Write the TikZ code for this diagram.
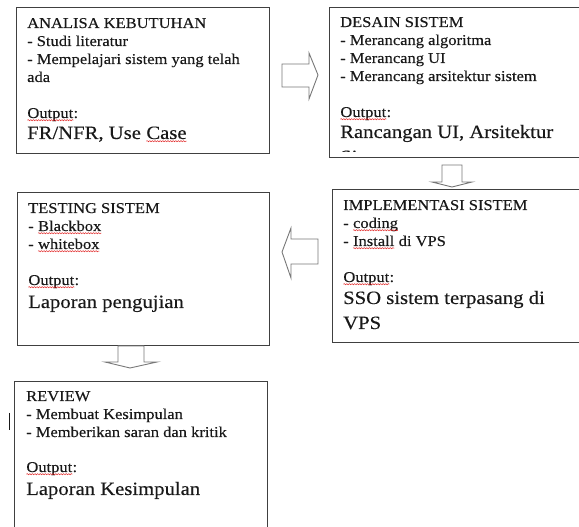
\documentclass[tikz,border=0pt]{standalone}
\usepackage{fontspec}
\setmainfont{Liberation Serif}[FakeStretch=1.1,FakeBold=0.3]
\usetikzlibrary{decorations.pathmorphing}
\definecolor{figline}{RGB}{64,64,64}
\definecolor{figarrow}{RGB}{120,120,120}
\definecolor{figtext}{RGB}{25,25,25}
\definecolor{figwave}{RGB}{225,40,40}
\tikzset{
  box/.style   ={draw=figline, line width=1pt, anchor=north west, inner sep=0pt},
  barrow/.style={draw=figarrow, fill=white, line width=0.9pt, line join=miter},
  txt/.style   ={font=\fontsize{15}{18}\selectfont, text=figtext, anchor=base west, inner sep=0pt},
  big/.style   ={font=\fontsize{18.8}{25}\selectfont, text=figtext, anchor=base west, inner sep=0pt},
  sqline/.style={draw=figwave, line width=0.5pt, decorate, decoration={snake, amplitude=0.6pt, segment length=2.6pt}},
}
\newcommand{\sq}[1]{\tikz[baseline=(sqw.base)]{\node[inner sep=0pt,outer sep=0pt] (sqw) {#1};
  \draw[sqline] ([yshift=-2.2pt]sqw.base west) -- ([yshift=-2.2pt]sqw.base east);}}

\begin{document}
\begin{tikzpicture}[x=1pt,y=1pt]
  \useasboundingbox (0,0) rectangle (579,527);
  \clip (0,0) rectangle (579,527);
  % boxes
  \node[box, minimum width=253pt, minimum height=146pt] (analisa) at (16,520) {};
  \node[box, minimum width=260pt, minimum height=150pt] (desain) at (329,520) {};
  \node[box, minimum width=260pt, minimum height=153pt] (implementasi) at (332,338) {};
  \node[box, minimum width=252pt, minimum height=153pt] (testing) at (17,335) {};
  \node[box, minimum width=253pt, minimum height=160pt] (review) at (14,146) {};
  % block arrows
  \draw[barrow] (282,463) -- (309,463) -- (309,474) -- (318,452) -- (309,428) -- (309,440) -- (282,440) -- cycle;
  \draw[barrow] (442,362) -- (462,362) -- (462,345) -- (472,345) -- (452,340) -- (432,345) -- (442,345) -- cycle;
  \draw[barrow] (318,288) -- (291,288) -- (291,299) -- (282,275) -- (291,249) -- (291,263) -- (318,263) -- cycle;
  \draw[barrow] (118,181) -- (144,181) -- (144,165) -- (157,165) -- (130,159) -- (105,165) -- (118,165) -- cycle;
  % analisa kebutuhan
  \node[txt] (an1) at (27,499) {ANALISA KEBUTUHAN};
  \node[txt] (an2) at (27,481) {- Studi literatur};
  \node[txt] (an3) at (27,463) {- Mempelajari sistem yang telah};
  \node[txt] (an4) at (27,445) {ada};
  \node[txt] (an5) at (27,409) {\sq{Output}:};
  \node[big] (an6) at (27,388) {FR/NFR, Use \sq{Case}};
  % desain sistem
  \node[txt] (de1) at (340,500) {DESAIN SISTEM};
  \node[txt] (de2) at (340,482) {- Merancang algoritma};
  \node[txt] (de3) at (340,464) {- Merancang UI};
  \node[txt] (de4) at (340,446) {- Merancang arsitektur sistem};
  \node[txt] (de5) at (340,410) {\sq{Output}:};
  \begin{scope}
  \clip (329,520) rectangle (579,375.5);
  \node[big] (de6) at (340,389) {Rancangan UI, Arsitektur};
  \node[big] (de7) at (340,364) {Sistem};
  \end{scope}
  % implementasi sistem
  \node[txt] (im1) at (343,317) {IMPLEMENTASI SISTEM};
  \node[txt] (im2) at (343,299) {- \sq{coding}};
  \node[txt] (im3) at (343,281) {- \sq{Install} di VPS};
  \node[txt] (im4) at (343,245) {\sq{Output}:};
  \node[big] (im5) at (343,223) {SSO sistem terpasang di};
  \node[big] (im6) at (343,198) {VPS};
  % testing sistem
  \node[txt] (te1) at (28,314) {TESTING SISTEM};
  \node[txt] (te2) at (28,296) {- \sq{Blackbox}};
  \node[txt] (te3) at (28,278) {- \sq{whitebox}};
  \node[txt] (te4) at (28,242) {\sq{Output}:};
  \node[big] (te5) at (28,219) {Laporan pengujian};
  % review
  \node[txt] (re1) at (26,126) {REVIEW};
  \node[txt] (re2) at (26,108) {- Membuat Kesimpulan};
  \node[txt] (re3) at (26,90) {- Memberikan saran dan kritik};
  \node[txt] (re4) at (26,55) {\sq{Output}:};
  \node[big] (re5) at (26,32) {Laporan Kesimpulan};
  % text cursor
  \draw[figtext, line width=0.8pt] (9,114) -- (9,97);
\end{tikzpicture}
\end{document}
